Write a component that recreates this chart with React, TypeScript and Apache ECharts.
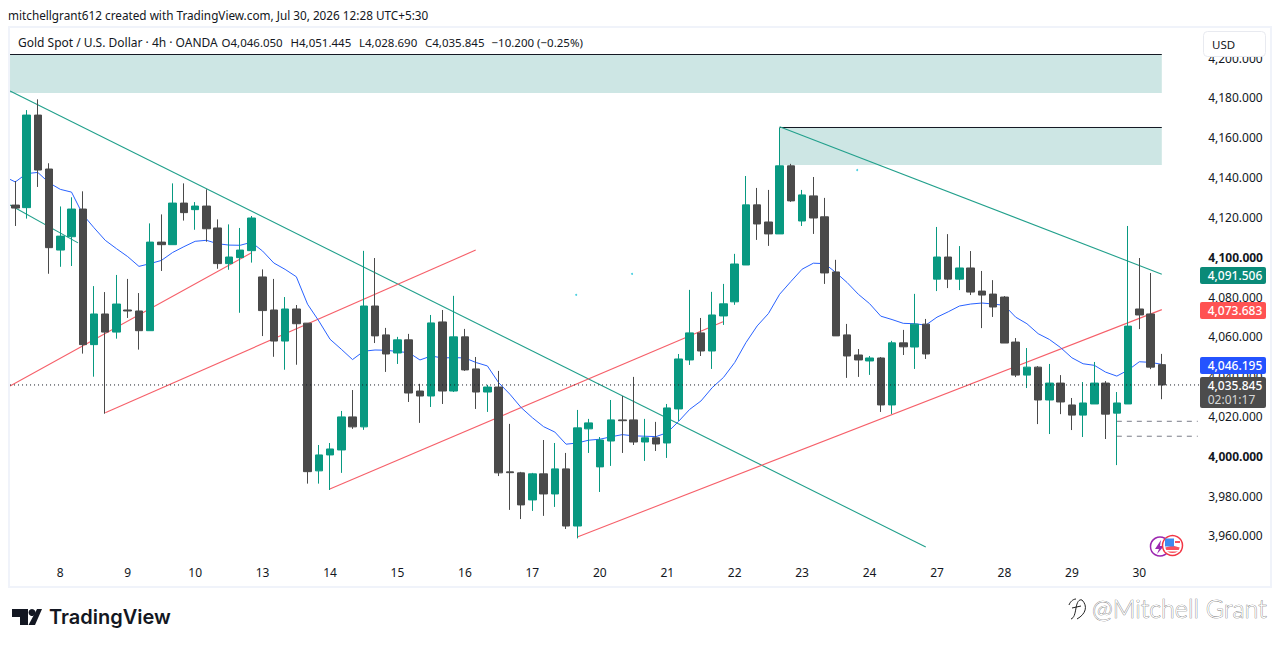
import React, { useEffect, useRef } from "react";
import * as echarts from "echarts";

const FONT = '"Noto Sans", "Open Sans", sans-serif';

const dayLabels = ["8", "9", "10", "13", "14", "15", "16", "17", "20", "21", "22", "23", "24", "27", "28", "29", "30"];

const opens = [4126.2,4124.9,4171.4,4144.3,4103.6,4110.3,4124.2,4056.1,4071.5,4062.4,4073.5,4073.0,4063.1,4107.6,4106.3,4127.2,4123.9,4125.7,4114.7,4096.8,4099.8,4103.3,4090.1,4073.5,4057.9,4074.0,4066.9,3992.7,4000.7,4003.2,4019.8,4014.8,4075.5,4061.0,4051.9,4058.5,4032.8,4030.3,4067.5,4032.8,4060.0,4043.9,4032.3,4034.8,3992.2,3991.7,3978.1,3991.2,3981.1,3993.7,3965.0,4013.8,3994.7,4007.7,4018.3,4018.3,4007.2,4009.3,4006.7,4023.8,4048.4,4062.0,4052.9,4070.5,4077.6,4096.1,4126.3,4117.7,4111.7,4145.9,4118.2,4130.8,4120.3,4092.6,4061.0,4050.9,4047.9,4049.4,4025.8,4057.0,4054.9,4066.4,4089.0,4100.1,4089.0,4094.6,4083.0,4081.5,4080.0,4057.4,4040.8,4044.8,4028.3,4036.8,4025.8,4020.7,4026.3,4036.8,4021.7,4026.3,4074.0,4071.5,4046.05];
const closes = [4124.7,4171.4,4143.8,4104.8,4110.6,4124.2,4056.1,4071.5,4062.4,4076.5,4073.0,4063.1,4107.6,4106.3,4127.2,4122.4,4125.7,4114.3,4096.8,4100.1,4103.6,4119.7,4073.2,4057.9,4074.0,4066.6,3992.3,4000.7,4003.7,4019.8,4014.8,4075.5,4060.5,4051.4,4058.5,4031.8,4030.3,4067.0,4032.8,4060.0,4043.4,4032.3,4034.8,3991.7,3991.8,3975.6,3991.2,3981.1,3993.7,3965.0,4014.3,4016.8,4008.2,4018.3,4017.9,4007.2,4009.3,4006.2,4024.3,4048.9,4062.0,4052.9,4071.0,4076.6,4096.6,4126.3,4116.7,4111.7,4145.9,4128.3,4131.3,4119.7,4092.1,4060.5,4050.4,4048.4,4049.4,4025.8,4057.0,4055.0,4066.4,4051.4,4100.1,4089.0,4094.6,4082.5,4081.0,4075.0,4056.9,4040.8,4044.8,4028.3,4036.8,4027.3,4020.7,4026.8,4036.8,4021.2,4026.8,4065.4,4071.0,4044.8,4035.845];
const lows = [4115.7,4119.4,4135.3,4091.7,4095.2,4095.6,4051.6,4040.0,4021.4,4059.1,4069.5,4053.6,4063.1,4093.1,4106.3,4118.4,4113.8,4107.8,4094.2,4093.7,4072.1,4097.3,4060.4,4050.0,4043.5,4046.0,3986.3,3986.3,3983.1,3991.7,4013.8,4013.3,4056.9,4042.4,4046.4,4027.3,4016.8,4024.8,4026.3,4032.3,4042.9,4023.8,4022.3,3990.1,3973.1,3968.5,3972.6,3970.1,3974.6,3963.5,3958.8,4001.7,3982.1,3995.2,4001.7,4005.7,3997.7,4002.7,3999.2,4017.8,4045.9,4050.4,4043.9,4066.0,4076.1,4096.1,4108.7,4105.7,4111.7,4127.8,4115.7,4111.7,4086.6,4060.5,4039.4,4039.9,4040.9,4022.3,4021.3,4050.9,4043.9,4048.9,4083.0,4084.5,4083.5,4081.0,4064.4,4070.0,4056.9,4039.8,4034.3,4016.2,4011.2,4021.2,4013.2,4009.7,4026.3,4008.7,3995.6,4026.3,4063.9,4043.8,4028.69];
const highs = [4138.3,4173.9,4179.3,4147.2,4125.5,4130.1,4133.1,4085.5,4082.5,4091.1,4089.1,4082.0,4117.0,4121.5,4137.1,4137.1,4127.7,4134.1,4119.0,4116.5,4114.7,4120.7,4093.9,4089.1,4080.0,4076.0,4066.9,4005.7,4006.7,4022.8,4033.3,4103.2,4099.6,4064.5,4060.0,4061.5,4036.4,4071.0,4073.5,4080.6,4064.0,4049.9,4035.9,4042.9,4016.3,3992.2,3991.7,4008.2,4006.7,4001.7,4023.3,4018.8,4009.7,4028.3,4030.3,4039.9,4018.8,4017.3,4026.3,4051.4,4083.6,4069.5,4082.6,4086.6,4101.7,4140.8,4134.8,4133.8,4165.0,4146.9,4133.8,4140.3,4129.8,4098.7,4066.5,4053.9,4050.4,4049.9,4058.0,4063.5,4081.6,4069.0,4115.2,4111.6,4105.6,4103.1,4093.1,4088.5,4080.5,4059.4,4054.4,4045.3,4046.4,4040.8,4029.3,4037.3,4047.4,4037.8,4032.3,4115.7,4099.6,4092.1,4051.445];
const movingAverage = [4137.8,4142.0,4142.6,4137.4,4134.1,4132.7,4121.5,4114.8,4108.5,4104.3,4100.3,4095.4,4096.8,4098.4,4102.4,4105.3,4108.0,4108.5,4106.8,4106.1,4106.0,4107.5,4103.1,4097.1,4093.9,4090.2,4076.4,4068.0,4058.8,4053.8,4048.6,4052.8,4053.4,4053.3,4052.6,4052.1,4048.4,4050.4,4049.4,4049.6,4049.4,4047.1,4045.4,4037.0,4031.2,4024.5,4019.4,4014.9,4012.2,4006.1,4006.7,4008.1,4008.6,4009.8,4010.9,4010.3,4010.1,4009.9,4011.9,4017.5,4023.6,4027.8,4034.5,4039.6,4047.1,4057.1,4065.5,4071.7,4081.4,4087.8,4094.0,4097.0,4096.8,4092.3,4087.3,4081.4,4076.7,4070.4,4068.7,4066.8,4066.6,4065.9,4069.9,4072.6,4075.5,4076.5,4077.0,4076.5,4075.8,4069.9,4066.6,4061.6,4058.7,4054.6,4049.5,4046.5,4045.7,4042.3,4040.3,4043.3,4047.5,4047.2,4046.195];
const maLeftEdge = [-0.47, 4139.1];

// Trend lines, as [bar index, price] pairs
const greenLines = [
  [[-0.47, 4183.5], [81.0, 3954.5]],
  [[-0.47, 4126.2], [5.58, 4107.2]],
  [[68, 4165.5], [102, 4091.506]],
];
const redLines = [
  [[-0.47, 4035.3], [20.97, 4102.1]],
  [[8.0, 4021.9], [40.96, 4103.6]],
  [[27.93, 3983.5], [62.96, 4067.6]],
  [[50.0, 3959.5], [102, 4073.683]],
];
const zones = [
  { x0: -0.47, x1: 102, top: 4201.82, bottom: 4182.5 },
  { x0: 68, x1: 102, top: 4165.16, bottom: 4146.3 },
];
const targetLevels = [4017.6, 4010.1];
const targetStart = 98;
const targetEnd = 105.2;
const lastPrice = 4035.845;
const dots = [[49.9, 4081.1], [54.87, 4091.6], [74.9, 4143.8]];

const yMin = 3940;
const yMax = 4220;
const yStep = 20;
const barCount = 106;

const headerTitle: [string, number] = ["Gold Spot / U.S. Dollar · 4h · OANDA", 18];
const headerPieces: [string, number][] = [
  ["O4,046.050", 221.5],
  ["H4,051.445", 290.5],
  ["L4,028.690", 359],
  ["C4,035.845", 425],
  ["−10.200 (−0.25%)", 491.5],
];
const priceTags: [string, string, number, number][] = [
  ["4,091.506", "#0A8A78", 267, 17],
  ["4,073.683", "#FF5252", 302, 17],
  ["4,046.195", "#2453FF", 357, 17],
];

const fmt = (v: number) => v.toLocaleString("en-US", { minimumFractionDigits: 3, maximumFractionDigits: 3 });

echarts.graphic.registerShape(
  "fbubble",
  echarts.graphic.extendPath(
    "M1071 619 C1074 618 1075 614 1076 608 C1077 602 1079 599 1082 600 M1072 608 L1081 606 M1069 605 C1070 602 1073 599 1076 599 M1082 600 C1088 606 1086 614 1077 619",
    {}
  )
);

function App() {
  const ref = useRef<HTMLDivElement>(null);
  useEffect(() => {
    const chart = echarts.init(ref.current!, undefined, { renderer: "svg" });
    const overlay = (name: string, data: any, color: string, type: any = "solid", width = 1, z = 1) => ({
      name,
      type: "line",
      xAxisIndex: 1,
      yAxisIndex: 0,
      data,
      symbol: "none",
      silent: true,
      z,
      lineStyle: { color, width, type },
    });
    const text = (t: string, x: number, y: number, fill: string, size = 12, extra: any = {}) => ({
      type: "text",
      z: 120,
      silent: true,
      style: { text: t, x, y, fill, font: `${size}px ${FONT}`, textVerticalAlign: "middle", ...extra },
    });
    const graphics: any[] = [
      { type: "rect", z: 100, shape: { x: 0, y: 0, width: 1281, height: 27 }, style: { fill: "#fff" } },
      { type: "rect", z: 100, shape: { x: 10, y: 27, width: 1190, height: 27 }, style: { fill: "#fff" } },
      { type: "rect", z: 110, shape: { x: 9, y: 27, width: 1262, height: 560 }, style: { fill: "none", stroke: "#F0F3FA", lineWidth: 2 } },
      text("mitchellgrant612 created with TradingView.com, Jul 30, 2026 12:28 UTC+5:30", 8, 15, "#131722", 11.75),
      text(headerTitle[0], headerTitle[1], 42, "#131722", 12),
      ...headerPieces.map(([t, x]) => text(t, x, 42, "#131722", 11.5)),
      { type: "rect", z: 115, shape: { x: 1203.5, y: 31.5, width: 62, height: 25, r: 4 }, style: { fill: "#fff", stroke: "#E8EAF0", lineWidth: 1 } },
      text("USD", 1212, 44, "#131722", 11.5),
      ...priceTags.flatMap(([t, color, y, h]) => [
        { type: "rect", z: 115, shape: { x: 1200, y, width: 66, height: h, r: 2 }, style: { fill: color } },
        text(t, 1207.7, y + h / 2, "#fff", 12, { font: `500 12px ${FONT}` }),
      ]),
      { type: "rect", z: 115, shape: { x: 1200, y: 377, width: 66, height: 31, r: 2 }, style: { fill: "#4C4C4C" } },
      text("4,035.845", 1207.7, 385, "#fff", 12, { font: `500 12px ${FONT}` }),
      text("02:01:17", 1207.7, 399, "#D8D8D8", 12),
      // TradingView logo
      { type: "polygon", z: 120, shape: { points: [[12, 609], [28, 609], [28, 625], [20, 625], [20, 617], [12, 617]] }, style: { fill: "#131722" } },
      { type: "circle", z: 120, shape: { cx: 32, cy: 612.5, r: 3.5 }, style: { fill: "#131722" } },
      { type: "polygon", z: 120, shape: { points: [[37, 609], [42, 609], [35, 625], [28.5, 625]] }, style: { fill: "#131722" } },
      text("TradingView", 49, 617, "#131722", 20, { font: `600 20px Inter, ${FONT}` }),
      // Watermark
      { type: "fbubble", z: 120, style: { fill: "none", stroke: "#222", lineWidth: 1 } },
      text("@Mitchell Grant", 1092, 608, "#fff", 25, { font: `300 25px Lato, ${FONT}`, stroke: "#707070", lineWidth: 0.7 }),
      // Event badges
      { type: "circle", z: 120, shape: { cx: 1160, cy: 546.5, r: 9.5 }, style: { fill: "#fff", stroke: "#9C27B0", lineWidth: 1.5 } },
      { type: "polygon", z: 120, shape: { points: [[1161, 540], [1155, 549], [1159, 549], [1157, 554], [1164, 546], [1160, 546]] }, style: { fill: "#9C27B0" } },
      { type: "circle", z: 121, shape: { cx: 1172.5, cy: 545.5, r: 10 }, style: { fill: "#fff", stroke: "#F23645", lineWidth: 1.5 } },
      { type: "sector", z: 122, shape: { cx: 1172.5, cy: 545.5, r: 7.5, r0: 0, startAngle: 0.26, endAngle: 2.88 }, style: { fill: "#F7525F" } },
      { type: "rect", z: 122, shape: { x: 1165, y: 538.5, width: 9, height: 8 }, style: { fill: "#3D8BEF" } },
      { type: "rect", z: 122, shape: { x: 1175, y: 541, width: 5, height: 2 }, style: { fill: "#F7525F" } },
      { type: "rect", z: 123, shape: { x: 1165, y: 550, width: 15, height: 1.5 }, style: { fill: "#fff" } },
    ];
    chart.setOption({
      animation: false,
      backgroundColor: "#fff",
      textStyle: { fontFamily: FONT },
      grid: { left: 9.7, width: barCount * 11.24, top: 18.3, height: 557.5, containLabel: false },
      xAxis: [
        {
          type: "category",
          data: Array.from({ length: barCount }, (_, i) => String(i)),
          boundaryGap: true,
          axisLine: { show: false },
          axisTick: { show: false },
          splitLine: { show: false },
          axisLabel: {
            margin: -9,
            color: "#131722",
            fontSize: 12,
            fontFamily: FONT,
            interval: (i: number) => i >= 4 && (i - 4) % 6 === 0 && (i - 4) / 6 < dayLabels.length,
            formatter: (_v: string, i: number) => dayLabels[(i - 4) / 6] ?? "",
          },
        },
        { type: "value", min: -0.5, max: barCount - 0.5, show: false, position: "top", splitLine: { show: false } },
      ],
      yAxis: {
        type: "value",
        position: "right",
        min: yMin,
        max: yMax,
        interval: yStep,
        scale: true,
        axisLine: { show: false },
        axisTick: { show: false },
        splitLine: { show: false },
        axisLabel: {
          margin: 7,
          showMinLabel: false,
          showMaxLabel: false,
          color: "#131722",
          fontSize: 12,
          fontFamily: FONT,
          formatter: (v: number) => (v === 4100 || v === 4000 ? `{b|${fmt(v)}}` : fmt(v)),
          rich: { b: { fontWeight: 700, fontSize: 12, fontFamily: FONT, color: "#131722" } },
        },
      },
      graphic: { elements: graphics },
      series: [
        {
          name: "zones",
          type: "line",
          xAxisIndex: 1,
          data: [],
          symbol: "none",
          z: 0,
          markArea: {
            silent: true,
            itemStyle: { color: "#CDE6E4" },
            data: zones.map((z) => [{ coord: [z.x0, z.top] }, { coord: [z.x1, z.bottom] }]),
          },
        },
        ...zones.map((z, i) => overlay(`zoneTop${i}`, [[z.x0, z.top], [z.x1, z.top]], "#131722")),
        ...greenLines.map((l, i) => overlay(`green${i}`, l, "#22A08C", "solid", 1.1)),
        ...redLines.map((l, i) => overlay(`red${i}`, l, "#F6606A", "solid", 1.1)),
        ...targetLevels.map((v, i) => overlay(`target${i}`, [[targetStart, v], [targetEnd, v]], "#787B86", [5, 5])),
        overlay("ma", [maLeftEdge, ...movingAverage.map((v, i) => [i, v])], "#2962FF"),
        {
          name: "dots",
          type: "scatter",
          xAxisIndex: 1,
          data: dots,
          symbolSize: 2,
          itemStyle: { color: "#26C6DA" },
          silent: true,
        },
        {
          name: "XAUUSD",
          type: "candlestick",
          xAxisIndex: 0,
          barWidth: 8,
          z: 3,
          silent: true,
          data: opens.map((o, i) => [o, closes[i], lows[i], highs[i]]),
          itemStyle: {
            color: "#089981",
            color0: "#4A4A4A",
            borderColor: "#089981",
            borderColor0: "#4A4A4A",
            borderWidth: 1,
          },
        },
        overlay("last", [[-0.47, lastPrice], [barCount - 0.5, lastPrice]], "#131722", [1, 3], 1, 4),
      ],
    });
    return () => chart.dispose();
  }, []);
  return <div ref={ref} style={{ position: "fixed", left: 0, top: 0, width: 1281, height: 647, background: "#fff" }} />;
}

export default App;
